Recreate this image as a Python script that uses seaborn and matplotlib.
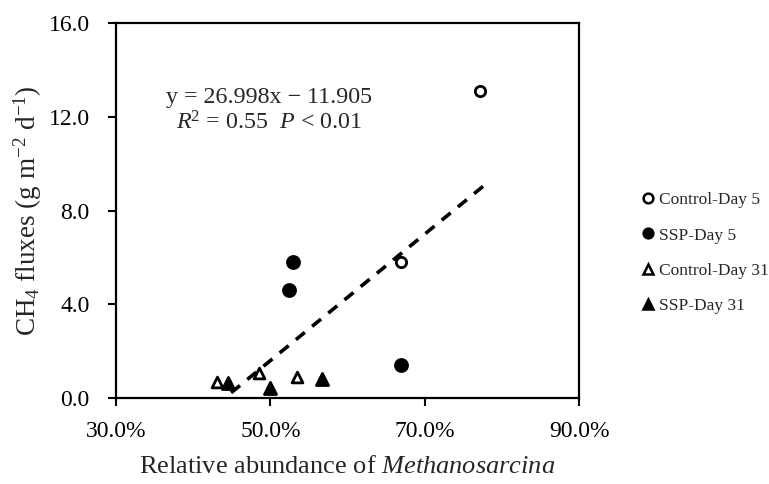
import matplotlib
matplotlib.use("Agg")
import matplotlib.pyplot as plt
import seaborn as sns
import pandas as pd
from matplotlib.ticker import PercentFormatter, FixedLocator
from matplotlib.lines import Line2D

# Data (relative abundance as fraction, CH4 flux g m-2 d-1)
ctrl5_x = [0.772, 0.669]
ctrl5_y = [13.1, 5.8]
ssp5_x = [0.529, 0.524, 0.669]
ssp5_y = [5.8, 4.6, 1.4]
ctrl31_x = [0.431, 0.485, 0.534]
ctrl31_y = [0.68, 1.07, 0.9]
ssp31_x = [0.445, 0.499, 0.567]
ssp31_y = [0.64, 0.40, 0.80]

slope = 26.998
intercept = -11.905
fit_x = [0.449, 0.777]

x_ticks = [0.3, 0.5, 0.7, 0.9]
y_ticks = [0.0, 4.0, 8.0, 12.0, 16.0]

sns.set_theme(style="ticks")
plt.rcParams['font.family'] = ['Liberation Serif', 'DejaVu Serif']
plt.rcParams['mathtext.fontset'] = 'custom'
plt.rcParams['mathtext.rm'] = 'Liberation Serif'
plt.rcParams['mathtext.it'] = 'Liberation Serif:italic'

fig = plt.figure(figsize=(7.69, 4.84), dpi=100)
ax = fig.add_axes([0.151, 0.178, 0.602, 0.774])

fit_df = pd.DataFrame({"x": fit_x, "y": [slope * v + intercept for v in fit_x]})
sns.lineplot(data=fit_df, x="x", y="y", ax=ax, color="black", lw=2.6,
             linestyle=(0, (3.2, 2.6)), zorder=2)

groups = [
    ("Control-Day 5", ctrl5_x, ctrl5_y, "o", "white", 55),
    ("SSP-Day 5", ssp5_x, ssp5_y, "o", "black", 75),
    ("Control-Day 31", ctrl31_x, ctrl31_y, "^", "white", 60),
    ("SSP-Day 31", ssp31_x, ssp31_y, "^", "black", 75),
]
handles = []
for name, xs, ys, m, fc, s in groups:
    df = pd.DataFrame({"x": xs, "y": ys})
    sns.scatterplot(data=df, x="x", y="y", ax=ax, marker=m, s=s,
                    facecolor=fc, edgecolor="black", linewidth=2.0, zorder=3)
    handles.append(Line2D([], [], marker=m, ls="none", markerfacecolor=fc,
                          markeredgecolor="black", markeredgewidth=1.8,
                          markersize=7, label=name))

ax.set_xlim(0.3, 0.9)
ax.set_ylim(0, 16)
ax.xaxis.set_major_locator(FixedLocator(x_ticks))
ax.yaxis.set_major_locator(FixedLocator(y_ticks))
ax.xaxis.set_major_formatter(PercentFormatter(1.0, decimals=1))
ax.yaxis.set_major_formatter(matplotlib.ticker.FormatStrFormatter("%.1f"))
ax.tick_params(axis="both", direction="out", length=6, width=1.5,
               labelsize=17, color="black", labelcolor="black")
ax.tick_params(axis="x", pad=11)
ax.tick_params(axis="y", pad=13)
for sp in ax.spines.values():
    sp.set_visible(True)
    sp.set_color("black")
    sp.set_linewidth(1.6)

ax.set_xlabel("Relative abundance of $\\it{Methanosarcina}$", fontsize=19, labelpad=10)
ax.set_ylabel("CH$_4$ fluxes (g m$^{-2}$ d$^{-1}$)", fontsize=19.5, labelpad=3)

ax.text(0.33, 0.803, "y = 26.998x − 11.905", transform=ax.transAxes,
        fontsize=17.3, ha="center", va="center")
ax.text(0.33, 0.733, "$\\it{R}$$^{2}$ = 0.55  $\\it{P}$ < 0.01", transform=ax.transAxes,
        fontsize=17.3, ha="center", va="center")

fig.legend(handles=handles, loc="upper left", bbox_to_anchor=(0.818, 0.621),
           frameon=False, fontsize=12.5, handletextpad=0.0, labelspacing=1.1,
           handlelength=1.2, borderpad=0)

fig.savefig("out.png", dpi=100)
